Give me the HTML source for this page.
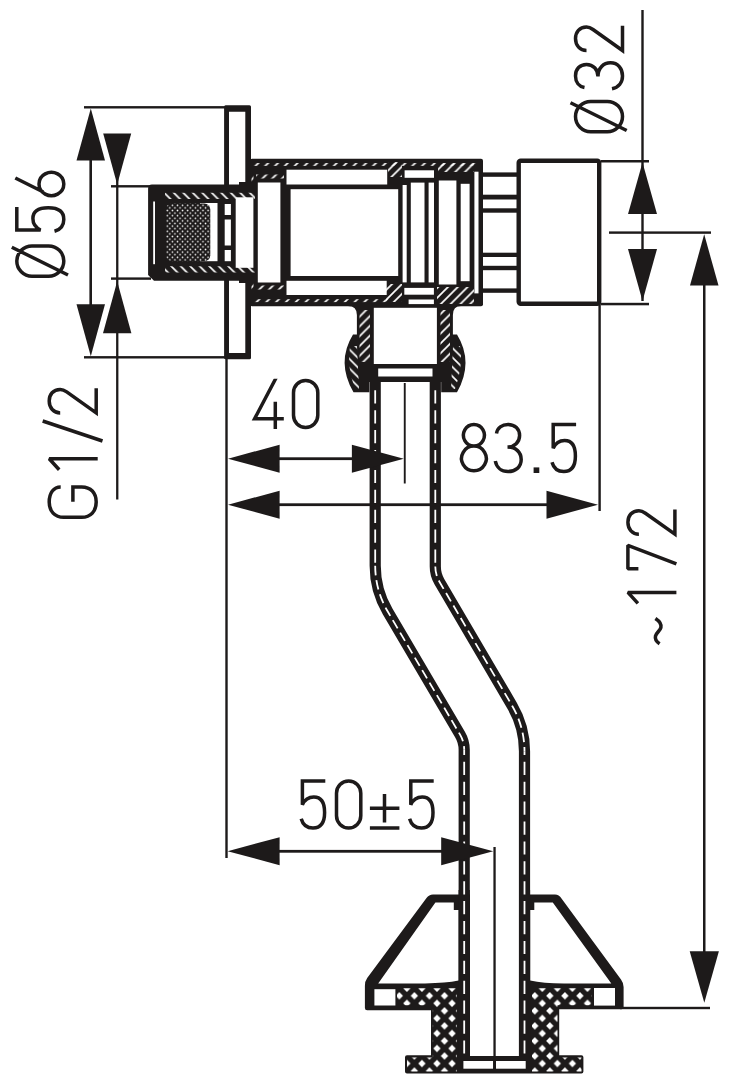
<!DOCTYPE html>
<html><head><meta charset="utf-8"><style>
html,body{margin:0;padding:0;background:#fff;width:731px;height:1080px;overflow:hidden;font-family:"Liberation Sans",sans-serif;}
svg{display:block;}
</style></head><body>
<svg width="731" height="1080" viewBox="0 0 731 1080">
<defs>
<clipPath id="cap"><rect x="-5" y="-50.2" width="40" height="52"/></clipPath>
<pattern id="hs" patternUnits="userSpaceOnUse" width="9.8" height="9.8"><path d="M-2,11.8 L11.8,-2 M-2,2 L2,-2 M7.8,11.8 L11.8,7.8" stroke="#fff" stroke-width="1.7"/></pattern>
<pattern id="hb" patternUnits="userSpaceOnUse" width="9.5" height="9.5"><path d="M-2,-2 L11.5,11.5 M7.5,-2 L11.5,2 M-2,7.5 L2,11.5" stroke="#fff" stroke-width="1.7"/></pattern>
<pattern id="dots" patternUnits="userSpaceOnUse" width="5.1" height="5.2" x="166" y="204"><circle cx="1.3" cy="1.3" r="0.8" fill="#fff"/><circle cx="3.85" cy="3.9" r="0.8" fill="#fff"/></pattern>
<pattern id="xh" patternUnits="userSpaceOnUse" width="15.05" height="15.05" x="534.8" y="995.8"><path d="M0.00,-3.70 L3.70,0.00 L0.00,3.70 L-3.70,0.00Z M15.05,-3.70 L18.75,0.00 L15.05,3.70 L11.35,0.00Z M0.00,11.35 L3.70,15.05 L0.00,18.75 L-3.70,15.05Z M15.05,11.35 L18.75,15.05 L15.05,18.75 L11.35,15.05Z M7.53,3.83 L11.23,7.53 L7.53,11.23 L3.83,7.53Z" fill="#fff"/></pattern>
</defs>
<path fill-rule="evenodd" fill="#1d1a1a" d="M225.6,105.3 H249.5 Q251,105.3 251,106.8 V357.8 Q251,359.3 249.5,359.3 H225.6 Q224.1,359.3 224.1,357.8 V106.8 Q224.1,105.3 225.6,105.3 Z M229,111.8 V353.1 H245.3 V111.8 Z"/>
<g fill="#1d1a1a">
<rect x="250" y="158.8" width="233" height="147.4" rx="2"/>
</g>
<rect x="252" y="163" width="225" height="2.9" fill="url(#hs)"/>
<rect x="252" y="299.2" width="140" height="2.9" fill="url(#hs)"/>
<rect x="438" y="163.5" width="36" height="8.5" fill="url(#hs)"/>
<rect x="437" y="287" width="37" height="17" fill="url(#hs)"/>
<rect x="388" y="162" width="14" height="15" fill="url(#hs)"/>
<rect x="256" y="174.5" width="28" height="4" fill="url(#hs)"/>
<rect x="256" y="285.5" width="28" height="4" fill="url(#hs)"/>
<rect x="251.5" y="172" width="2" height="10" fill="url(#hs)"/>
<rect x="251.5" y="283" width="2" height="10" fill="url(#hs)"/>
<rect x="386" y="284" width="16" height="18" fill="url(#hs)"/>
<g fill="#fff">
<rect x="286.5" y="169.7" width="100.7" height="14.8"/>
<rect x="286.5" y="280.8" width="100.2" height="14.2"/>
<rect x="290.6" y="189.2" width="107.6" height="86.8"/>
<rect x="257.8" y="182.5" width="22.6" height="100"/>
<rect x="402.6" y="185" width="4.1" height="97.4"/>
<rect x="410.8" y="182.6" width="13.7" height="99.8"/>
<rect x="428.6" y="182.6" width="5.4" height="99.8"/>
<rect x="438.8" y="180.5" width="17.6" height="104"/>
<rect x="460.7" y="183.8" width="8.9" height="97.4"/>
<rect x="474.4" y="171.7" width="4.1" height="121.7"/>
<rect x="404.6" y="170.3" width="29.4" height="7.5"/>
<rect x="404.3" y="287.9" width="29.6" height="6.8"/>
<rect x="408.6" y="299.5" width="25.3" height="4.6"/>
</g>
<path d="M152,184.4 H239 V182 H257 V283 H239 V280.8 H154 L148.1,275 V188.4 Q148.1,184.4 152,184.4 Z" fill="#1d1a1a"/>
<rect x="165" y="192.8" width="90" height="6.2" fill="url(#hb)"/>
<rect x="165" y="266.3" width="90" height="6.2" fill="url(#hb)"/>
<g fill="#fff">
<rect x="153.2" y="201.5" width="1.8" height="62.7"/>
<rect x="200" y="203" width="17.5" height="58.2"/>
<rect x="224.7" y="204" width="6.2" height="11"/>
<rect x="224.7" y="219.5" width="6.2" height="26"/>
<rect x="224.7" y="250" width="6.2" height="11.2"/>
<rect x="235.7" y="197.3" width="17.7" height="70.5"/>
</g>
<rect x="166" y="203.5" width="44.3" height="57.7" rx="6" fill="#1d1a1a"/>
<rect x="166" y="203.5" width="44.3" height="57.7" rx="6" fill="url(#dots)"/>
<g fill="#1d1a1a">
<rect x="482" y="172.4" width="36" height="4.4"/>
<rect x="482" y="194.7" width="36" height="4.8"/>
<rect x="482" y="208.3" width="36" height="4.4"/>
<rect x="482" y="252.7" width="36" height="4.3"/>
<rect x="482" y="265.8" width="36" height="4.4"/>
<rect x="482" y="288.4" width="36" height="4.4"/>
</g>
<rect x="518.7" y="160.8" width="80.5" height="143" rx="2" fill="#fff" stroke="#1d1a1a" stroke-width="4.4"/>
<path d="M348,306 Q356.9,306 356.9,315 V334.4 H353 Q336,362 353.5,392.3 H369.4 V382 H441.2 V392.3 H457 Q474,362 457,334.4 H452.9 V315 Q452.9,306 461,306 Z" fill="#1d1a1a"/>
<path d="M358,307 H452 V392 H358 Z" fill="url(#hs)" clip-path="none" opacity="0"/>
<g fill="#fff">
<rect x="373.8" y="307.8" width="63.1" height="56.2"/>
<rect x="378.2" y="368.5" width="54.3" height="8"/>
</g>
<rect x="359.5" y="310" width="10.5" height="52" fill="url(#hs)"/>
<rect x="440.5" y="310" width="9.5" height="52" fill="url(#hs)"/>
<path d="M350,346 Q346.5,366 355,389 L359,389 L357,346 Z" fill="url(#hb)"/>
<path d="M460,346 Q463.5,366 455,389 L451,389 L453,346 Z" fill="url(#hb)"/>
<path d="M375.2,381 V565.72 A90,90 0 0 0 387.60,611.31 L460.07,734.66 A30,30 0 0 1 464.20,749.86 V1056" fill="none" stroke="#1d1a1a" stroke-width="11.2"/>
<path d="M375.2,390.3 V565.72" stroke="#fff" stroke-width="1.8" fill="none" stroke-dasharray="13.2 6.7" stroke-dashoffset="0.00"/>
<path d="M375.2,565.72 A90,90 0 0 0 387.60,611.31 L460.07,734.66 A30,30 0 0 1 464.20,749.86" stroke="#fff" stroke-width="1.8" fill="none" stroke-dasharray="9.6 4.9"/>
<path d="M464.2,749.86 V1056" stroke="#fff" stroke-width="1.8" fill="none" stroke-dasharray="13.2 6.7" stroke-dashoffset="7.96"/>
<path d="M435.3,381 V566.55 A30,30 0 0 0 439.42,581.73 L512.13,705.71 A90,90 0 0 1 524.50,751.24 V1056" fill="none" stroke="#1d1a1a" stroke-width="11.2"/>
<path d="M435.3,390.3 V566.55" stroke="#fff" stroke-width="1.8" fill="none" stroke-dasharray="13.2 6.7" stroke-dashoffset="0.00"/>
<path d="M435.3,566.55 A30,30 0 0 0 439.42,581.73 L512.13,705.71 A90,90 0 0 1 524.50,751.24" stroke="#fff" stroke-width="1.8" fill="none" stroke-dasharray="9.6 4.9"/>
<path d="M524.5,751.24 V1056" stroke="#fff" stroke-width="1.8" fill="none" stroke-dasharray="13.2 6.7" stroke-dashoffset="9.34"/>
<path d="M459,894.4 H433 Q429,894.4 426.5,898 L367.2,978 Q364.9,981 364.9,986 V1008 Q364.9,1010.2 367.2,1010.2 H431 V1055.3 H407 Q405,1055.3 405,1057.3 V1071.4 Q405,1073.4 407,1073.4 H581.4 Q583.4,1073.4 583.4,1071.4 V1057.3 Q583.4,1055.3 581.4,1055.3 H559.2 V1009.2 H621.5 Q623.6,1009.2 623.6,1007 V987 Q623.6,983 621,979.5 L561.5,898.5 Q559,894.4 555,894.4 H530 Z" fill="#1d1a1a"/>
<path d="M453.8,902.6 H435.4 L378.2,983.4 H425 Q446,983.2 458.6,980.6 V910 H453.8 Z" fill="#fff"/>
<path d="M534.3,902.6 H552.8 L611.3,983.6 H564 Q543,983.4 530.2,980.6 V910 H534.3 Z" fill="#fff"/>
<rect x="374.4" y="989.2" width="21" height="16.3" fill="#fff"/>
<rect x="594" y="988" width="21" height="17.6" fill="#fff"/>
<path d="M397,988.3 H457 V1071.5 H407 V1057.5 H432.8 V1005.3 H397 Z" fill="url(#xh)"/>
<path d="M532,988.3 H591.5 V1005.3 H557.5 V1057.5 H581.5 V1071.5 H532 Z" fill="url(#xh)"/>
<rect x="470" y="890" width="49" height="166" fill="#fff"/>
<rect x="458.6" y="890" width="11.2" height="166" fill="#1d1a1a"/>
<rect x="518.9" y="890" width="11.2" height="166" fill="#1d1a1a"/>
<path d="M464.2,890 V1056" stroke="#fff" stroke-width="1.8" stroke-dasharray="13.2 6.7" stroke-dashoffset="8.80"/>
<path d="M524.5,890 V1056" stroke="#fff" stroke-width="1.8" stroke-dasharray="13.2 6.7" stroke-dashoffset="8.80"/>
<rect x="463.4" y="1061" width="29.7" height="7.7" fill="#fff"/>
<rect x="496" y="1061" width="29.7" height="7.7" fill="#fff"/>
<g fill="#1d1a1a">
<rect x="84" y="106.1" width="142" height="2.4"/>
<rect x="84" y="356.1" width="142" height="2.4"/>
<rect x="89.4" y="150" width="2.6" height="160"/>
<polygon points="90.8,108.4 76.5,160.4 105.0,160.4"/>
<polygon points="90.8,356.2 76.5,304.2 105.0,304.2"/>
<rect x="111" y="185.1" width="40" height="2.4"/>
<rect x="111" y="277.4" width="40" height="2.4"/>
<rect x="116.1" y="140" width="2.3" height="359.5"/>
<polygon points="117.2,184.6 103.2,133.6 131.2,133.6"/>
<polygon points="117.2,281.2 103.0,333.2 131.4,333.2"/>
</g>
<g fill="#1d1a1a">
<rect x="225.3" y="350" width="2.4" height="508"/>
<rect x="598.4" y="300" width="2.4" height="211"/>
<rect x="403.8" y="383" width="1.9" height="100.5"/>
<rect x="493.4" y="847" width="2.3" height="222"/>
<rect x="270" y="457.3" width="100" height="2.8"/>
<polygon points="228.0,458.7 279.6,444.7 279.6,472.7"/>
<polygon points="403.8,458.7 351.9,444.7 351.9,472.7"/>
<rect x="270" y="503.3" width="300" height="2.8"/>
<polygon points="228.0,504.7 279.6,490.7 279.6,518.7"/>
<polygon points="598.0,504.7 546.5,490.7 546.5,518.7"/>
<rect x="270" y="849.9" width="190" height="2.8"/>
<polygon points="227.6,851.2 279.6,837.2 279.6,865.2"/>
<polygon points="493.2,851.3 441.2,837.3 441.2,865.3"/>
</g>
<g fill="#1d1a1a">
<rect x="641.3" y="10" width="2.4" height="291"/>
<rect x="601" y="160" width="48" height="2.5"/>
<rect x="601" y="302.8" width="48" height="2.5"/>
<polygon points="642.5,162.5 628.0,214.0 657.0,214.0"/>
<polygon points="642.5,301.0 628.0,249.0 657.0,249.0"/>
<rect x="609" y="231.4" width="102" height="2.4"/>
<rect x="703" y="260" width="2.5" height="700"/>
<polygon points="704.2,234.3 690.0,285.6 718.5,285.6"/>
<polygon points="704.3,1002.8 689.7,951.3 718.9,951.3"/>
<rect x="620" y="1006.8" width="90" height="2.4"/>
</g>
<g transform="translate(65.3 277.8) rotate(-90)" fill="none" stroke="#1d1a1a" stroke-width="3.5" stroke-linecap="butt" stroke-linejoin="miter"><path transform="translate(0 0)" d="M1.5,-33.3 A15.2,15.2 0 0 1 31.9,-33.3 V-16.7 A15.2,15.2 0 0 1 1.5,-16.7 Z M2.8,2.7 L30.6,-53.5"/><path transform="translate(45.2 0)" d="M25.5,-48.5 H2.6 V-24.7 C5,-30 9,-32.4 14,-32.4 C21,-32.4 24.8,-27 24.8,-17 C24.8,-6.5 20.5,-1.5 13.2,-1.5 C7,-1.5 3,-5 1.4,-10.8"/><path transform="translate(80.6 0)" d="M19.2,-50 L5.2,-22 M13.2,-26.3 A11.7,12.4 0 1 0 13.21,-26.3 Z"/></g>
<g transform="translate(97.7 518.8) rotate(-90)" fill="none" stroke="#1d1a1a" stroke-width="3.5" stroke-linecap="butt" stroke-linejoin="miter"><path transform="translate(0 0)" d="M31.9,-37 C31.9,-44 26,-48.5 16.7,-48.5 C7.5,-48.5 1.5,-43 1.5,-34 V-16 C1.5,-7 7.5,-1.5 16.7,-1.5 C26,-1.5 31.9,-7 31.9,-16 V-24.8 H17"/><path transform="translate(48.2 0)" d="M11.8,0 V-48.5 L0.8,-38.5" stroke-linejoin="bevel"/><path transform="translate(76.3 0)" d="M1.5,4.8 L21.5,-55"/><path transform="translate(104.4 0)" d="M26.2,-1.5 H1.5 L22.5,-31 C24.3,-33.5 25,-35.5 25,-37.5 C25,-44.5 20,-48.5 13.4,-48.5 C6.5,-48.5 1.5,-44 1.5,-37.5"/></g>
<g transform="translate(624 133.3) rotate(-90)" fill="none" stroke="#1d1a1a" stroke-width="3.5" stroke-linecap="butt" stroke-linejoin="miter"><path transform="translate(0 0)" d="M1.5,-33.3 A15.2,15.2 0 0 1 31.9,-33.3 V-16.7 A15.2,15.2 0 0 1 1.5,-16.7 Z M2.8,2.7 L30.6,-53.5"/><path transform="translate(43.3 0)" d="M2.5,-39.5 C3.5,-45 8,-48.5 14,-48.5 C21,-48.5 25.6,-44 25.6,-37.5 C25.6,-31 20.5,-26 13.5,-26 C22,-26 27.2,-20.5 27.2,-13.5 C27.2,-6 21.5,-1.5 14,-1.5 C7.5,-1.5 2.5,-5.5 1.3,-12"/><path transform="translate(81.3 0)" d="M26.2,-1.5 H1.5 L22.5,-31 C24.3,-33.5 25,-35.5 25,-37.5 C25,-44.5 20,-48.5 13.4,-48.5 C6.5,-48.5 1.5,-44 1.5,-37.5"/></g>
<g transform="translate(676.4 645) rotate(-90)" fill="none" stroke="#1d1a1a" stroke-width="3.5" stroke-linecap="butt" stroke-linejoin="miter"><path transform="translate(0 0)" d="M1.2,-16.8 C3.5,-20.3 6,-21.6 9,-20.9 C12,-20.2 14.5,-16.2 17.5,-15.5 C21,-14.8 24,-17.2 26.5,-21"/><path transform="translate(40.8 0)" d="M11.8,0 V-48.5 L0.8,-38.5" stroke-linejoin="bevel"/><path transform="translate(74.7 0)" d="M1.5,-38 V-48.5 H25 L6.5,0" stroke-linejoin="bevel"/><path transform="translate(109.3 0)" d="M26.2,-1.5 H1.5 L22.5,-31 C24.3,-33.5 25,-35.5 25,-37.5 C25,-44.5 20,-48.5 13.4,-48.5 C6.5,-48.5 1.5,-44 1.5,-37.5"/></g>
<g transform="translate(253 429)" fill="none" stroke="#1d1a1a" stroke-width="3.5" stroke-linecap="butt" stroke-linejoin="miter"><path transform="translate(0 0)" d="M23.3,-51.5 L1.6,-10.2 H30.8 M22.3,-27.3 V0" clip-path="url(#cap)"/><path transform="translate(39 0)" d="M1.5,-36.35 A12.15,12.15 0 0 1 25.8,-36.35 V-13.65 A12.15,12.15 0 0 1 1.5,-13.65 Z"/></g>
<g transform="translate(459 473)" fill="none" stroke="#1d1a1a" stroke-width="3.5" stroke-linecap="butt" stroke-linejoin="miter"><path transform="translate(0 0)" d="M14.9,-48.5 A10.5,10.8 0 1 0 14.91,-48.5 Z M14.9,-26.9 A12.35,12.3 0 1 0 14.91,-26.9 Z"/><path transform="translate(35 0)" d="M2.5,-39.5 C3.5,-45 8,-48.5 14,-48.5 C21,-48.5 25.6,-44 25.6,-37.5 C25.6,-31 20.5,-26 13.5,-26 C22,-26 27.2,-20.5 27.2,-13.5 C27.2,-6 21.5,-1.5 14,-1.5 C7.5,-1.5 2.5,-5.5 1.3,-12"/><path transform="translate(74.3 0)" d="M0.3,-2.8 H6" stroke-width="5.6"/><path transform="translate(91.6 0)" d="M25.5,-48.5 H2.6 V-24.7 C5,-30 9,-32.4 14,-32.4 C21,-32.4 24.8,-27 24.8,-17 C24.8,-6.5 20.5,-1.5 13.2,-1.5 C7,-1.5 3,-5 1.4,-10.8"/></g>
<g transform="translate(299.8 829.5)" fill="none" stroke="#1d1a1a" stroke-width="3.5" stroke-linecap="butt" stroke-linejoin="miter"><path transform="translate(0 0)" d="M25.5,-48.5 H2.6 V-24.7 C5,-30 9,-32.4 14,-32.4 C21,-32.4 24.8,-27 24.8,-17 C24.8,-6.5 20.5,-1.5 13.2,-1.5 C7,-1.5 3,-5 1.4,-10.8"/><path transform="translate(35.2 0)" d="M1.5,-36.35 A12.15,12.15 0 0 1 25.8,-36.35 V-13.65 A12.15,12.15 0 0 1 1.5,-13.65 Z"/><path transform="translate(70.1 0)" d="M0,-21.2 H29.5 M14.6,-35.5 V-7 M0,-1.5 H29.5"/><path transform="translate(108.4 0)" d="M25.5,-48.5 H2.6 V-24.7 C5,-30 9,-32.4 14,-32.4 C21,-32.4 24.8,-27 24.8,-17 C24.8,-6.5 20.5,-1.5 13.2,-1.5 C7,-1.5 3,-5 1.4,-10.8"/></g>
</svg>
</body></html>
